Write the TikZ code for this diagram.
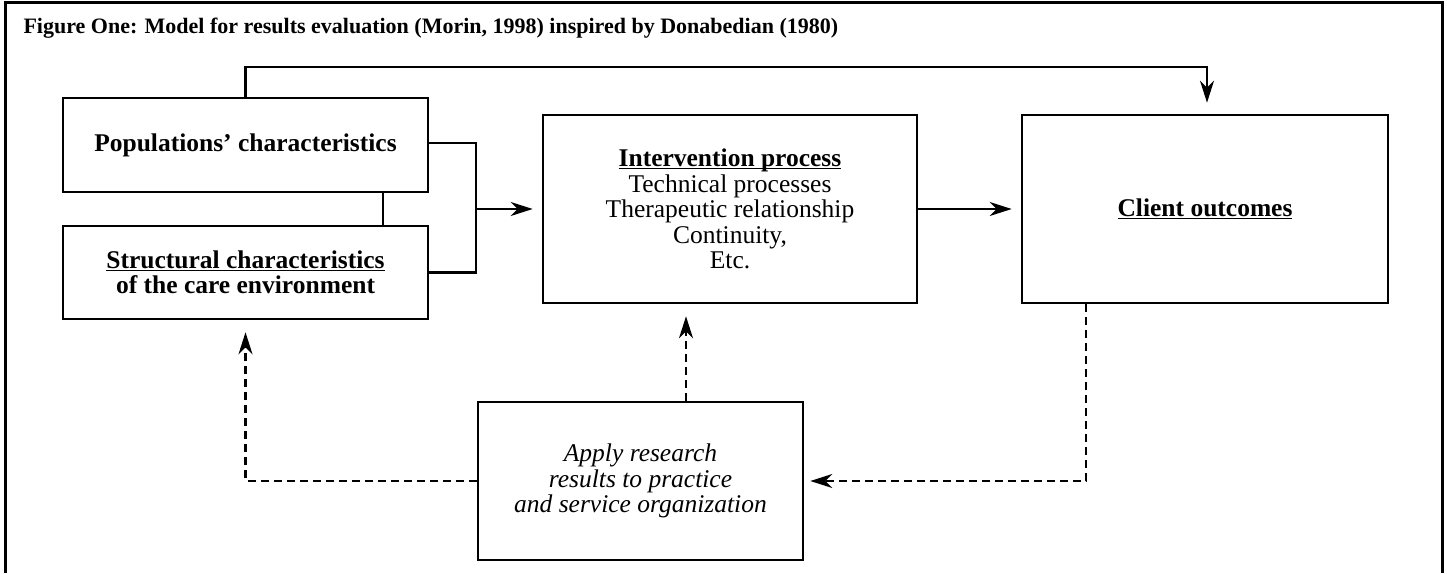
\documentclass[tikz,border=0pt]{standalone}
\usepackage{fontspec}
\setmainfont{Liberation Serif}
\usetikzlibrary{arrows.meta}
\newcommand{\undl}[1]{\rlap{\underline{\smash{\phantom{#1}}}}#1}
\begin{document}
\begin{tikzpicture}[x=1pt,y=-1pt,
  box/.style={draw, line width=2.6pt, inner sep=0pt, align=center, font=\fontsize{25.5}{25.5}\selectfont},
  conn/.style={line width=2.2pt},
  arr/.style={conn, -{Stealth[length=22pt,width=14pt,inset=7pt]}},
  darr/.style={arr, dash pattern=on 8pt off 5pt}]
\useasboundingbox (0,0) rectangle (1447,573);
\draw[line width=3pt] (5,573) -- (5,2) -- (1442,2) -- (1442,573);
\node[anchor=base west, font=\bfseries\fontsize{22}{24}\selectfont] (title) at (20,33)
  {Figure One: Model for results evaluation (Morin, 1998) inspired by Donabedian (1980)};
\node[box, minimum width=365pt, minimum height=94pt] (pop) at (245.5,145)
  {\bfseries Populations’ characteristics};
\node[box, minimum width=365pt, minimum height=93pt] (struct) at (245.5,272.5)
  {\bfseries\undl{Structural characteristics}\\ \bfseries of the care environment};
\node[box, minimum width=374pt, minimum height=188pt] (interv) at (730,209)
  {\bfseries\undl{Intervention process}\\Technical processes\\Therapeutic relationship\\Continuity,\\Etc.};
\node[box, minimum width=366pt, minimum height=188pt] (client) at (1205,209)
  {\bfseries\undl{Client outcomes}};
\node[box, minimum width=325pt, minimum height=158pt, font=\itshape\fontsize{25.5}{25.5}\selectfont] (apply) at (640.5,481)
  {Apply research\\results to practice\\and service organization};
\coordinate (br) at (476,209);
% top link from populations to outcomes
\draw[arr, shorten >=11pt] (pop.north) -- ++(0,-30) -| ([xshift=2pt]client.north);
% link between the two left boxes
\draw[conn] ([xshift=137.5pt]pop.south) -- ([xshift=137.5pt]pop.south |- struct.north);
% bracket
\draw[conn] ([yshift=2pt]pop.east) -| (br) |- (struct.east);
\draw[arr, shorten >=9pt] (br) -- (interv.west);
\draw[arr, shorten >=9pt] (interv.east) -- (client.west);
% dashed feedback
\draw[darr, shorten >=6pt] ([xshift=-119pt]client.south) |- (apply.east);
\draw[darr, shorten >=12pt] (apply.west) -| (struct.south);
\draw[darr, shorten >=12pt] ([xshift=45.5pt]apply.north) -- ([xshift=45.5pt]apply.north |- interv.south);
\end{tikzpicture}
\end{document}
